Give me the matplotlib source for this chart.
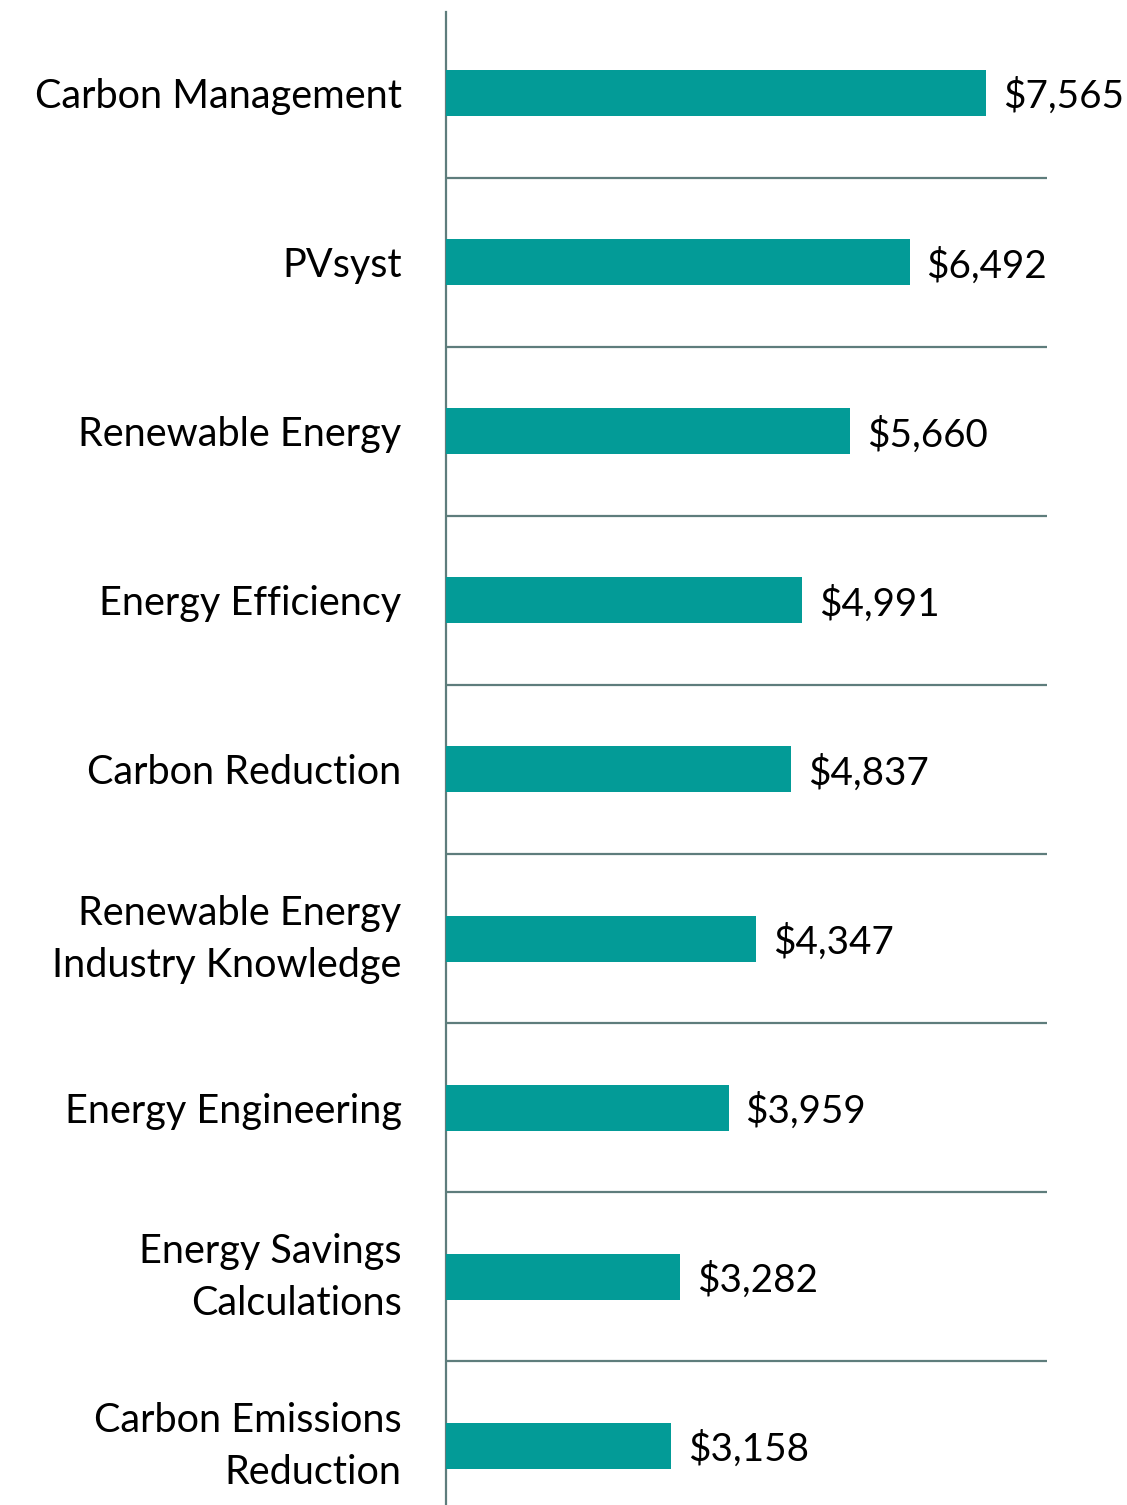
import matplotlib
matplotlib.use("Agg")
import matplotlib.pyplot as plt

categories = [
    "Carbon Management",
    "PVsyst",
    "Renewable Energy",
    "Energy Efficiency",
    "Carbon Reduction",
    "Renewable Energy\nIndustry Knowledge",
    "Energy Engineering",
    "Energy Savings\nCalculations",
    "Carbon Emissions\nReduction",
]
values = [7565, 6492, 5660, 4991, 4837, 4347, 3959, 3282, 3158]

BAR_COLOR = "#039B97"
LINE_COLOR = "#5E7D7C"

plt.rcParams["font.family"] = ["Lato", "DejaVu Sans"]

W, H = 1127, 1505
fig = plt.figure(figsize=(W / 100, H / 100), dpi=100)
ax = fig.add_axes([446 / W, 0, (1124 - 446) / W, (1505 - 12) / H])

pos = list(range(len(categories)))
ax.barh(pos, values, height=0.272, color=BAR_COLOR, zorder=3)

ax.set_ylim(8.349, -0.479)
ax.set_xlim(0, 9496)

# separators between categories
for k in range(len(categories) - 1):
    ax.plot([0, 8417], [k + 0.5, k + 0.5], color=LINE_COLOR, lw=1.6,
            solid_capstyle="butt", zorder=2)

for s in ["top", "right", "bottom"]:
    ax.spines[s].set_visible(False)
ax.spines["left"].set_color(LINE_COLOR)
ax.spines["left"].set_linewidth(1.6)

ax.set_xticks([])
ax.set_yticks([])

for i, cat in enumerate(categories):
    dy = 7.5 if "\n" in cat else 0
    ax.annotate(cat, xy=(0, i), xytext=(-32, dy), textcoords="offset points",
                va="center_baseline", ha="right", fontsize=28.5, linespacing=1.5,
                color="black", annotation_clip=False)

for i, v in enumerate(values):
    ax.annotate(f"${v:,}", xy=(v, i), xytext=(12, 0), textcoords="offset points",
                va="center_baseline", ha="left", fontsize=27.8, color="black")

fig.savefig("out.png", dpi=100)
